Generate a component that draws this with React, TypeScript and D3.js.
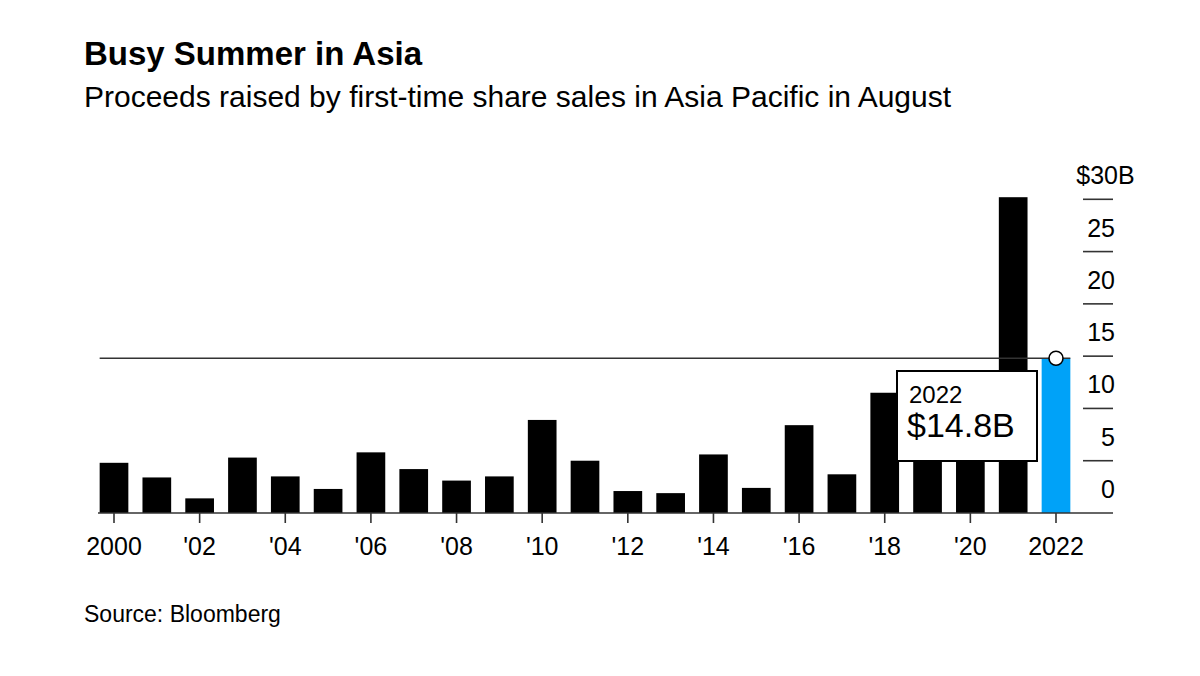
import React from "react";
import * as d3 from "d3";

const years: number[] = d3.range(2000, 2023);
const proceeds: number[] = [4.8, 3.4, 1.4, 5.3, 3.5, 2.3, 5.8, 4.2, 3.1, 3.5, 8.9, 5.0, 2.1, 1.9, 5.6, 2.4, 8.4, 3.7, 11.5, 8.0, 10.0, 30.2, 14.8];
const xTickYears: number[] = [2000, 2002, 2004, 2006, 2008, 2010, 2012, 2014, 2016, 2018, 2020, 2022];
const yTicks: number[] = [0, 5, 10, 15, 20, 25, 30];
const highlightYear = 2022;
const highlightValue = 14.8;

const FONT = "'Liberation Sans', Arial, Helvetica, sans-serif";

export default function App() {
  const W = 1200, H = 676;
  const x0 = 114, x1 = 1056;
  const stepEst = (x1 - x0) / (years.length - 1);
  const x = d3.scaleBand<number>()
    .domain(years)
    .range([x0 - stepEst / 2, x1 + stepEst / 2])
    .paddingInner(0.33)
    .paddingOuter(0.165);
  const y = d3.scaleLinear().domain([0, 30]).range([513, 199.3]);
  const bw = x.bandwidth();
  const cx = (yr: number) => (x(yr) as number) + bw / 2;
  const fmtX = (yr: number) => (yr === 2000 || yr === 2022 ? String(yr) : "'" + String(yr).slice(2));
  const refY = y(highlightValue);
  const axisRight = 1113;
  const tickLeft = 1083;

  return (
    <svg width={W} height={H} style={{ position: "absolute", left: 0, top: 0, background: "#fff" }} fontFamily={FONT}>
      <rect x={0} y={0} width={W} height={H} fill="#fff" />
      <text x={84} y={65} fontSize={33} fontWeight="bold" fill="#000">Busy Summer in Asia</text>
      <text x={84} y={107} fontSize={30} fill="#000">Proceeds raised by first-time share sales in Asia Pacific in August</text>

      {/* y ticks */}
      {yTicks.filter((t) => t > 0).map((t) => (
        <line key={"yt" + t} x1={tickLeft} x2={axisRight} y1={y(t)} y2={y(t)} stroke="#333" strokeWidth={1.6} />
      ))}
      {yTicks.map((t) => (
        t === 30 ? (
          <g key={"yl" + t}>
            <text x={1118} y={y(t) - 15} fontSize={25} textAnchor="end" fill="#000">$30</text>
            <text x={1118} y={y(t) - 15} fontSize={25} textAnchor="start" fill="#000">B</text>
          </g>
        ) : (
          <text key={"yl" + t} x={1115} y={y(t) - 15} fontSize={25} textAnchor="end" fill="#000">{t}</text>
        )
      ))}

      {/* bars */}
      {years.map((yr, i) => (
        <rect key={yr} x={x(yr)} y={y(proceeds[i])} width={bw} height={y(0) - y(proceeds[i])}
          fill={yr === highlightYear ? "#00a2f8" : "#000"} />
      ))}

      {/* reference line */}
      <line x1={x(2000)} x2={(x(highlightYear) as number) + bw} y1={refY} y2={refY} stroke="#333" strokeWidth={1.6} />

      {/* baseline */}
      <line x1={98} x2={axisRight} y1={y(0)} y2={y(0)} stroke="#333" strokeWidth={1.6} />
      {xTickYears.map((yr) => (
        <g key={"xt" + yr}>
          <line x1={cx(yr)} x2={cx(yr)} y1={y(0)} y2={y(0) + 10} stroke="#333" strokeWidth={1.6} />
          <text x={cx(yr)} y={555} fontSize={25} textAnchor="middle" fill="#000">{fmtX(yr)}</text>
        </g>
      ))}

      {/* annotation box */}
      <rect x={897} y={371} width={140} height={90} fill="#fff" stroke="#000" strokeWidth={2} />
      <text x={909} y={403} fontSize={24} fill="#000">2022</text>
      <text x={907} y={437} fontSize={34} fill="#000">$14.8B</text>

      {/* marker */}
      <circle cx={cx(highlightYear)} cy={refY} r={7} fill="#fff" stroke="#000" strokeWidth={1.6} />

      <text x={84} y={622} fontSize={23} fill="#000">Source: Bloomberg</text>
    </svg>
  );
}
